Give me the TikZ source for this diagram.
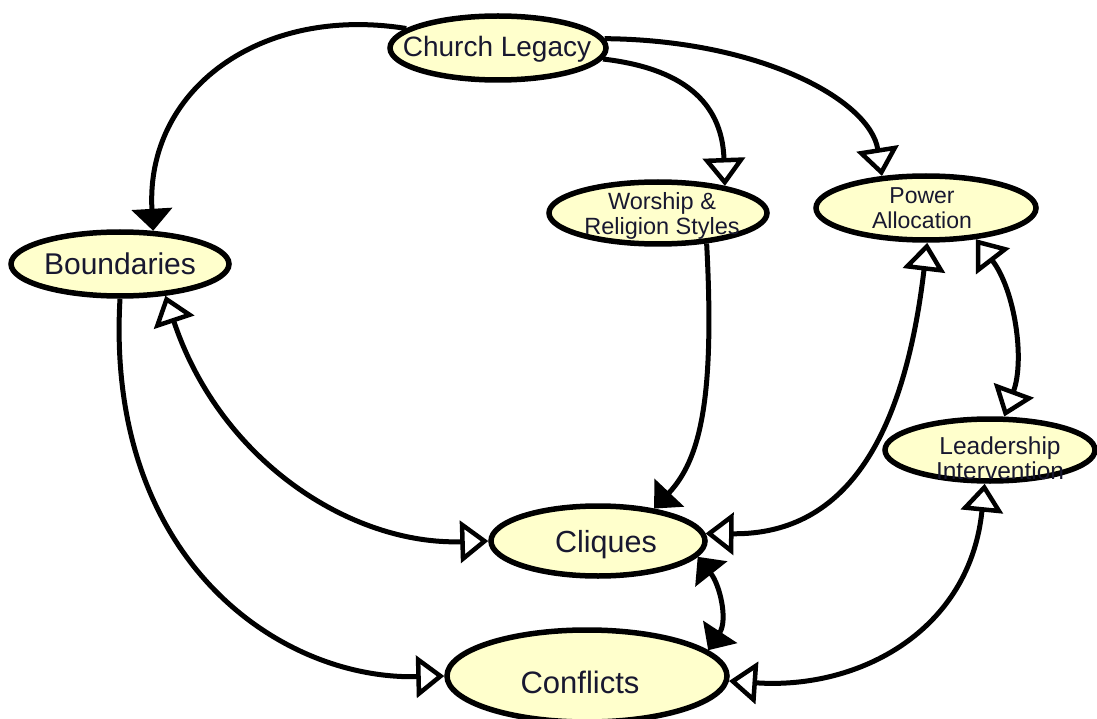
\documentclass[tikz,border=0pt]{standalone}
\usepackage{fontspec}
\setmainfont{Liberation Sans}
\usetikzlibrary{arrows.meta,shapes.geometric}
\definecolor{nodefill}{RGB}{255,255,204}
\definecolor{labelink}{RGB}{24,24,48}
\begin{document}
\begin{tikzpicture}[x=1pt,y=-1pt,
  ell/.style={ellipse, draw=black, line width=5.5pt, fill=nodefill, inner sep=0pt},
  lbl/.style={text=labelink, inner sep=0pt, align=center},
  link/.style={draw=black, line width=5pt},
  otip/.tip={Triangle[open, length=28pt, width=42pt, line width=4.5pt]},
  ftip/.tip={Triangle[length=22pt, width=40pt]},
  openhead/.style={link, -otip},
  openboth/.style={link, otip-otip},
  fullhead/.style={link, -ftip},
  fullboth/.style={link, ftip-ftip}]
\useasboundingbox (0,0) rectangle (1097,719);

% concept ellipses
\node[ell, minimum width=216pt, minimum height=64pt] (church) at (498,48) {};
\node[ell, minimum width=218pt, minimum height=62pt] (worship) at (658,213) {};
\node[ell, minimum width=220pt, minimum height=64pt] (power) at (926,208) {};
\node[ell, minimum width=218pt, minimum height=64pt] (bound) at (120,264) {};
\node[ell, minimum width=210pt, minimum height=62pt] (lead) at (990,450) {};
\node[ell, minimum width=214pt, minimum height=70pt] (cliques) at (598,541) {};
\node[ell, minimum width=280pt, minimum height=92pt] (conf) at (587,676) {};

% influences
\draw[fullhead] (church.168) .. controls (260,5) and (145,90) .. (bound.45);
\draw[openhead] (church.-6) .. controls (680,68) and (722,100) .. (worship.22);
\draw[openhead] (church.5) .. controls (760,40) and (870,100) .. (power.144);
\draw[fullhead] (worship.-32) .. controls (715,400) and (700,460) .. (cliques.30);
\draw[openboth] (bound.-35) .. controls (220,460) and (350,545) .. (cliques.west);
\draw[openhead] (bound.south) .. controls (105,560) and (280,680) .. (conf.west);
\draw[openboth] (power.-88) .. controls (905,430) and (850,535) .. (cliques.4);
\draw[openboth] (power.-32) .. controls (1015,290) and (1025,360) .. (lead.67);
\draw[openboth] (lead.-99) .. controls (970,630) and (860,690) .. (conf.-2);
\draw[fullboth] (cliques.-9) .. controls (720,585) and (728,620) .. (conf.12);

% labels
\node[lbl, anchor=base, font=\fontsize{28}{30}\selectfont] (tchurch) at (497,57) {Church Legacy};
\node[lbl, font=\fontsize{23.5}{25}\selectfont] (tworship) at (662,216) {Worship \&\\Religion Styles};
\node[lbl, font=\fontsize{23}{25}\selectfont] (tpower) at (922,208) {Power\\Allocation};
\node[lbl, anchor=base, font=\fontsize{30}{32}\selectfont] (tbound) at (120,275) {Boundaries};
\node[lbl, font=\fontsize{24.5}{25}\selectfont] (tlead) at (1000,458) {Leadership\\Intervention};
\node[lbl, anchor=base, font=\fontsize{30.5}{32}\selectfont] (tcliques) at (606,552) {Cliques};
\node[lbl, anchor=base, font=\fontsize{31}{33}\selectfont] (tconf) at (580,693) {Conflicts};
\end{tikzpicture}
\end{document}
